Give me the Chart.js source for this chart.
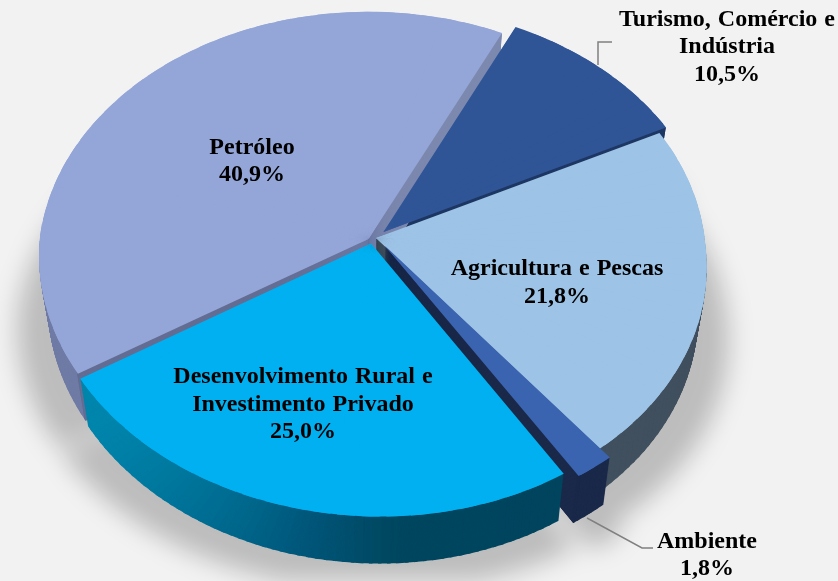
<!DOCTYPE html>
<html><head><meta charset="utf-8">
<style>html,body{margin:0;padding:0;background:#f2f2f2;overflow:hidden}canvas{display:block}</style>
<script src="https://cdn.jsdelivr.net/npm/chart.js@4"></script></head>
<body><canvas id="c" width="838" height="581"></canvas>
<script>
const categories = ['Turismo, Comércio e Indústria','Agricultura e Pescas','Ambiente','Desenvolvimento Rural e Investimento Privado','Petróleo'];
const shares = [10.5,21.8,1.8,25.0,40.9];
const topColors = ['#2f5597','#9dc3e6','#3a63b0','#00b0f0','#94a6d8'];
const startRotation = 26;
const sliceShift = [[12.5,-9],[5,-3],[13.5,4.5],[0,2.5],[-2.5,-2]];
const drawOrder = [0,4,1,2,3];
const frontOrder = [0,4,1,3,2];
// wall shades: [screen x, colour]
const wallStops = [
  [[0,[31,56,100]]],
  [[0,[65,80,95]]],
  [[0,[26,41,73]]],
  [[80,[0,133,173]],[200,[0,109,146]],[300,[0,87,122]],[400,[0,70,95]],[600,[0,69,95]]],
  [[0,[111,123,165]]]
];
const edgeWalls = [['#1f3864','#1f3864'],['#41505f','#41505f'],['#1a2949','#1a2949'],['#00506e','#00455f'],['#646e94','#7d89af']];
const labelLines = [
  {lines:['Turismo, Comércio e','Indústria','10,5%'],x:727,y:[26,53,81]},
  {lines:['Agricultura e Pescas','21,8%'],x:557,y:[275,303]},
  {lines:['Ambiente','1,8%'],x:707,y:[548,575]},
  {lines:['Desenvolvimento Rural e','Investimento Privado','25,0%'],x:303,y:[383,411,438]},
  {lines:['Petróleo','40,9%'],x:252,y:[154,181]}
];
const leaders = [[[598,65],[598,42],[612,42]],[[587,518],[642,548],[653,548]]];
const view = {cx:371,cy:241,R:329,S:248,p:0.09,skew:0.025,depth:47,taper:0.026};

function project(u,v){const w=1-view.p*v;return {x:view.cx+view.R*(u+view.skew*Math.max(v,0))/w,y:view.cy+view.S*v/w,w};}
function wallColor(i,x){
  const s=wallStops[i];
  if(x<=s[0][0]||s.length===1){const c=s[0][1];return `rgb(${c})`;}
  for(let k=1;k<s.length;k++){ if(x<=s[k][0]){
    const t=(x-s[k-1][0])/(s[k][0]-s[k-1][0]);
    const c=s[k-1][1].map((a,j)=>Math.round(a+(s[k][1][j]-a)*t));
    return `rgb(${c})`; } }
  return `rgb(${s[s.length-1][1]})`;
}
function opts(color){return {backgroundColor:color,borderColor:color,borderWidth:0,offset:0,spacing:0,circular:true,borderAlign:'center',borderRadius:0,borderJoinStyle:'round',borderDash:[],borderDashOffset:0};}
function drawWedge(ctx,el,a,b,ex,ey,padEnd,color,dy,sx){
  // the arc element itself is drawn; the matrix is the local linearisation of the tilted-plane view
  const r=el.outerRadius;
  const ca=Math.cos(a),sa=Math.sin(a),cb=Math.cos(b),sb=Math.sin(b);
  const P0=project(ex,ey),P1=project(ex+ca,ey+sa),P2=project(ex+cb,ey+sb);
  const d=(ca*sb-cb*sa)*r;
  const ax=P1.x-P0.x,ay=P1.y-P0.y,bx=P2.x-P0.x,by=P2.y-P0.y;
  const m11=(ax*sb-bx*sa)/d,m12=(bx*ca-ax*cb)/d,m21=(ay*sb-by*sa)/d,m22=(by*ca-ay*cb)/d;
  ctx.save();
  ctx.translate(view.cx,dy||0);
  ctx.scale(sx||1,1);
  ctx.translate(-view.cx,0);
  ctx.transform(m11,m21,m12,m22,P0.x,P0.y);
  ctx.translate(-el.x,-el.y);
  const s0=el.startAngle,e0=el.endAngle,c0=el.circumference,o0=el.options;
  el.startAngle=a;el.endAngle=b+padEnd;el.circumference=b-a+padEnd;el.options=opts(color);
  el.draw(ctx);
  el.startAngle=s0;el.endAngle=e0;el.circumference=c0;el.options=o0;
  ctx.restore();
}
function wedgesOf(el,deg){
  const n=Math.max(1,Math.ceil((el.endAngle-el.startAngle)/(deg*Math.PI/180)));
  const h=(el.endAngle-el.startAngle)/n,out=[];
  for(let k=0;k<n;k++)out.push([el.startAngle+k*h,el.startAngle+(k+1)*h,k===n-1?0:0.05]);
  return out;
}
const pie3d={id:'pie3d',beforeDatasetsDraw(chart){
  const ctx=chart.ctx,arcs=chart.getDatasetMeta(0).data;
  const offs=sliceShift.map(s=>[s[0]/view.R,s[1]/view.S]);
  // soft shadow
  const sh=document.createElement('canvas');sh.width=838;sh.height=581;const sc=sh.getContext('2d');
  arcs.forEach((el,i)=>wedgesOf(el,8).forEach(([a,b,p])=>drawWedge(sc,el,a,b,offs[i][0],offs[i][1],p,'#000',74,1.065)));
  ctx.save();ctx.filter='blur(12px)';ctx.globalAlpha=0.22;ctx.drawImage(sh,0,0);ctx.restore();
  // walls
  drawOrder.forEach(i=>{
    const el=arcs[i],ox=offs[i][0],oy=offs[i][1];
    wedgesOf(el,1.5).forEach(([a,b,p])=>{
      const m=(a+b)/2,pt=project(ox+Math.cos(m),oy+Math.sin(m));
      const col=wallColor(i,pt.x);
      for(let d=view.depth;d>0;d-=1)drawWedge(ctx,el,a,b,ox,oy,p>0?0.01:0,col,d,1-view.taper*d/view.depth);
    });
    const t=0.008;
    const showStart=Math.cos(el.startAngle)<0, showEnd=Math.cos(el.endAngle)>0;
    for(let d=view.depth;d>0;d-=0.5){
      const sx=1-view.taper*d/view.depth;
      if(showStart)drawWedge(ctx,el,el.startAngle,el.startAngle+t,ox,oy,0,edgeWalls[i][0],d,sx);
      if(showEnd)drawWedge(ctx,el,el.endAngle-t,el.endAngle,ox,oy,0,edgeWalls[i][1],d,sx);
    }
  });
  // top faces
  frontOrder.forEach(i=>{
    const el=arcs[i];
    wedgesOf(el,4).forEach(([a,b,p])=>drawWedge(ctx,el,a,b,offs[i][0],offs[i][1],p,topColors[i],0,1));
  });
  return false;
},afterDraw(chart){
  const ctx=chart.ctx;ctx.save();
  ctx.strokeStyle='#808080';ctx.lineWidth=1.5;
  leaders.forEach(l=>{ctx.beginPath();l.forEach((p,i)=>i?ctx.lineTo(p[0],p[1]):ctx.moveTo(p[0],p[1]));ctx.stroke();});
  ctx.fillStyle='#000';ctx.textAlign='center';ctx.textBaseline='alphabetic';
  ctx.font='bold 24px "Liberation Serif"';ctx.wordSpacing='1px';
  labelLines.forEach(t=>t.lines.forEach((s,i)=>ctx.fillText(s,t.x,t.y[i])));
  ctx.restore();
}};
new Chart(document.getElementById('c'),{
  type:'pie',
  data:{labels:categories,datasets:[{data:shares,backgroundColor:topColors,borderWidth:0,clip:false}]},
  options:{responsive:false,animation:false,rotation:startRotation,
    plugins:{legend:{display:false},tooltip:{enabled:false},title:{display:false}}},
  plugins:[pie3d]
});
</script></body></html>
